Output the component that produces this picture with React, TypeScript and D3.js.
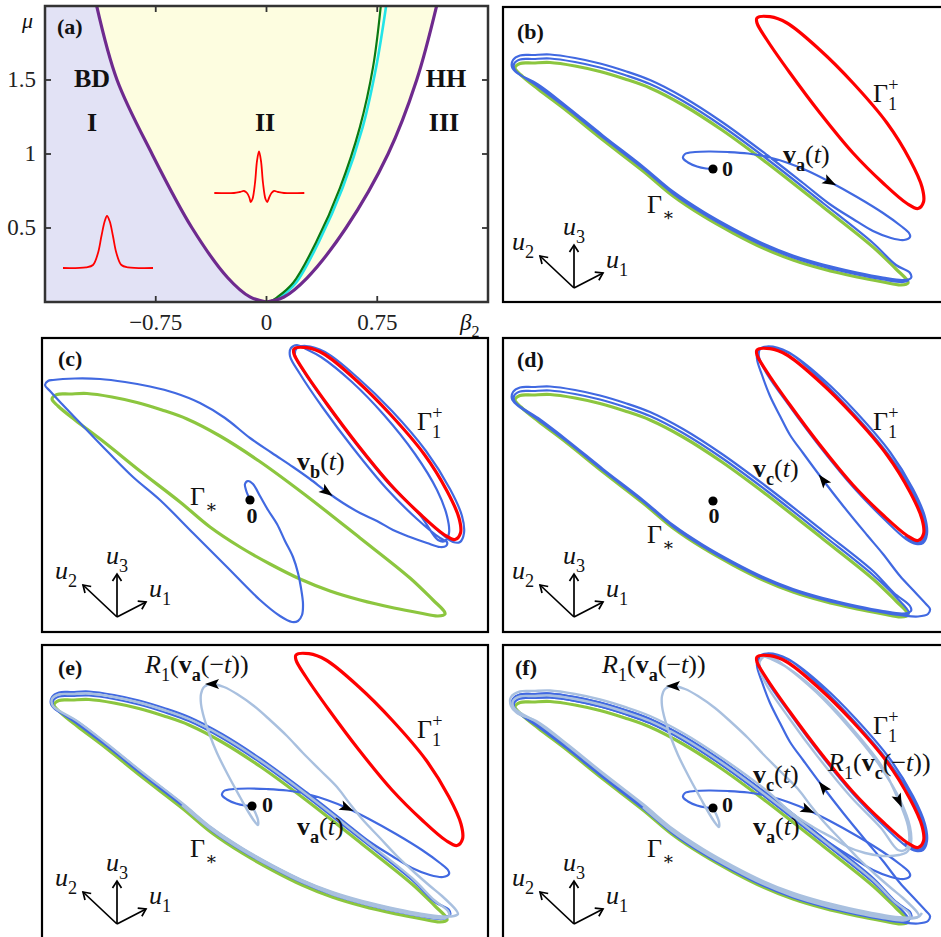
import React from 'react';
import * as d3 from 'd3';

type P = [number, number];

const SERIF = "'Liberation Serif', 'DejaVu Serif', serif";
const COL = {
  green: '#8cc63f',
  blue: '#4169e1',
  light: '#a9c0df',
  red: '#ff0000',
  purple: '#6e2a8e',
  branch: '#0b7a12',
  cyan: '#22e4e8',
  lav: '#e2e2f5',
  yel: '#fdfde0',
};

// ---------- (a) existence diagram in the (beta2, mu) plane ----------
const BETA_DOMAIN: P = [-1.5, 1.5];
const MU_DOMAIN: P = [0, 2];
const BETA_TICKS = [-0.75, 0, 0.75];
const BETA_TICK_LABELS = ['−0.75', '0', '0.75'];
const MU_TICKS = [0.5, 1, 1.5];
const MU_TICK_LABELS = ['0.5', '1', '1.5'];

// purple boundary, left and right branches sampled at the same mu levels
const MU_LEVELS = [0, 0.034, 0.162, 0.5, 1.0, 1.5, 2.0];
const BETA_LEFT = [0, -0.112, -0.261, -0.504, -0.775, -1.012, -1.15];
const BETA_RIGHT = [0, 0.118, 0.274, 0.538, 0.823, 1.017, 1.152];

// [beta2, mu]
const GREEN_BRANCH: P[] = [[0.02, 0], [0.07, 0.03], [0.181, 0.13], [0.339, 0.41], [0.497, 0.77], [0.632, 1.18], [0.722, 1.59], [0.774, 2.0]];
const CYAN_BRANCH: P[] = [[0.04, 0], [0.09, 0.03], [0.2, 0.13], [0.356, 0.41], [0.515, 0.77], [0.651, 1.18], [0.743, 1.59], [0.81, 2.0]];

// pulse insets: [offset, amplitude]
const PULSE_BD: P[] = [[-44, 0], [-21, 0.7], [-14, 3], [-9, 15], [-5.6, 31.7], [-2.3, 46.7], [0, 52], [2.7, 46.7], [6, 31.7], [9.4, 15], [14.4, 3], [21, 0.7], [46, 0]];
const PULSE_II: P[] = [[-44.7, 0], [-25, 0], [-19, 1], [-15, 2], [-12, 0], [-9.5, -5], [-8.3, -9], [-6.5, -6], [-4, 10], [-2, 32], [0, 41.7], [2, 32], [4, 10], [6.5, -6], [8.3, -9], [10, -5], [12.5, 0], [15, 2], [19, 1], [25, 0], [45.3, 0]];

// ---------- (b)-(f) projected phase portraits, shared projection ----------
const ORIGIN: P = [210, 162];

const GAMMA_STAR: P[] = [
  [12, 61], [17, 56.5], [30, 56], [47, 55.5], [72, 59], [97, 64.5], [122, 72], [147, 81], [180, 98], [219, 123],
  [264, 156], [320, 200], [370, 240], [393, 262], [404, 273], [405, 276], [398, 278], [380, 275], [354, 270],
  [320, 262], [290, 253], [260, 241], [230, 226], [200, 209], [170, 189], [140, 164], [100, 133], [64, 104], [35, 82], [18, 68],
];

const GAMMA_ONE: P[] = [
  [254, 11], [267, 9.7], [284, 16], [317, 43], [350, 76], [384, 116], [407, 153], [419, 180], [420.5, 195], [415, 201.5],
  [404, 196.5], [380, 176], [350, 146], [317, 106], [287, 66], [264, 33], [254, 16],
];

// v_a(t): from 0 out to Gamma_*
const VA_A: P[] = [
  [210, 162], [203, 161.5], [194, 159.5], [185, 155.5], [180, 151], [182, 147], [192, 145], [207, 144.5], [225, 145],
  [245, 146.5], [265, 150], [285, 156],
];
const VA_B: P[] = [
  [305, 164], [327, 175], [354, 190], [380, 206], [398, 219], [406, 226], [407, 230], [401, 233], [388, 231], [370, 224],
  [350, 212], [328, 198], [300, 176], [264, 148], [219, 115], [180, 90], [147, 73], [122, 64], [97, 56.5], [72, 51],
  [47, 47.5], [30, 48], [17, 48.5], [10, 53], [9, 60], [14, 66],
  [35, 77.5], [64, 99.5], [100, 128.5], [140, 159.5], [170, 184.5], [200, 204.5], [230, 221.5], [260, 236.5], [290, 248.5],
  [320, 257.5], [354, 265.5], [380, 270.5], [400, 273], [408, 271], [407, 266],
  [393, 258], [370, 236], [320, 196], [264, 152], [219, 119], [180, 94], [147, 77], [122, 68], [97, 60.5], [72, 55],
  [47, 51.5], [30, 52], [17, 52.5], [11, 57], [12, 63],
  [35, 79.5], [64, 101.5], [100, 130.5], [140, 161.5], [170, 186.5], [200, 206.5], [230, 223.5], [260, 238.5], [290, 250.5],
  [320, 259.5], [354, 267.5], [380, 272.5], [400, 275], [406, 273],
];
const VA = [...VA_A, ...VA_B];

// v_b(t): from 0 to Gamma_1^+
const VB_A: P[] = [
  [210, 162], [206, 152], [205, 146], [208, 143], [213, 146], [220, 158], [228, 172], [237, 186], [245, 203], [253, 219],
  [258, 235], [261, 250], [263, 266], [262, 277], [258, 283], [252, 284], [240, 278], [220, 262], [187, 229], [153, 195],
  [120, 162], [93, 139], [68, 114], [43, 88], [22, 66], [10, 53], [5, 47], [8, 43], [13, 42], [35, 40.5], [60, 41],
  [85, 44], [110, 48.5], [135, 55], [160, 65], [185, 80], [210, 100], [232, 115], [253, 129], [270, 141],
];
const VB_B: P[] = [
  [287, 154], [303, 165], [320, 175], [337, 183], [353, 192], [370, 199], [387, 205], [400, 209], [406, 208], [407, 204],
  [400, 200], [377, 181], [346, 150], [313, 110], [283, 70], [260, 36], [250, 18], [251, 10], [257, 7],
  [266, 11], [281, 19], [312, 44], [344, 77], [375, 116], [397, 152], [407, 178], [409, 195], [405, 203], [398, 202],
  [380, 177], [350, 147], [317, 107], [287, 67], [264, 34], [255, 17], [257, 10], [266, 8],
  [285, 14], [318, 40], [352, 73], [386, 113], [410, 151], [422, 178], [424, 195], [420, 204], [413, 204],
  [403, 197], [380, 176], [350, 146], [320, 110],
];
const VB = [...VB_A, ...VB_B];

// v_c(t): from Gamma_* to Gamma_1^+
const VC_A: P[] = [
  [200, 207.5], [230, 224.5], [260, 239.5], [290, 251.5], [320, 260.5], [354, 268.5], [380, 273.5], [400, 276], [406, 274],
  [393, 258], [370, 236], [320, 196], [264, 152], [219, 119], [180, 94], [147, 77], [122, 68], [97, 60.5], [72, 55],
  [47, 51.5], [30, 52], [17, 52.5], [11, 57], [12, 63],
  [35, 79], [64, 101], [100, 130], [140, 161], [170, 186], [200, 206], [230, 223], [260, 238], [290, 250], [320, 259],
  [354, 267], [380, 272], [400, 274.5], [408, 272], [407, 267],
  [391, 254], [370, 232], [320, 192], [264, 148], [219, 115], [180, 90], [147, 73], [122, 64], [97, 56.5], [72, 51],
  [47, 47.5], [30, 48], [17, 48.5], [10, 53], [9, 60], [14, 66],
  [35, 80.5], [64, 102.5], [100, 131.5], [140, 162.5], [170, 187.5], [200, 207.5], [230, 224.5], [260, 239.5], [290, 251.5],
  [320, 260.5], [354, 268.5], [380, 273.5], [400, 276.5], [415, 277.5], [425, 275], [427, 270], [423, 265],
  [410, 251], [397, 237], [380, 215], [364, 196], [341, 168],
];
const VC_B: P[] = [
  [320, 141], [300, 114], [287, 96], [277, 77], [267, 57], [259, 36], [254, 20], [255, 12], [261, 8], [271, 9],
  [288, 15], [320, 40], [353, 73], [387, 113], [410, 150], [422, 178], [424, 195], [420, 204], [413, 205],
  [403, 200], [381, 180], [351, 149], [318, 109], [288, 69], [264, 35], [256, 18], [257, 10], [264, 7.5],
  [285, 13], [318, 41], [351, 75], [385, 115], [409, 152], [420, 179], [422, 195], [418, 203], [410, 202], [402, 197],
];
const VC = [...VC_A, ...VC_B];

// R1(v_a(-t)): from Gamma_* back to 0
const R1VA_A: P[] = [
  [140, 161], [170, 186], [200, 206], [230, 223], [260, 238], [290, 250], [320, 259], [354, 267], [380, 272],
  [400, 274.5], [407, 272], [406, 267],
  [392, 256], [370, 234], [320, 194], [264, 150], [219, 117], [180, 92], [147, 75], [122, 66], [97, 58.5], [72, 53],
  [47, 49.5], [30, 50], [17, 50.5], [10, 55], [11, 62],
  [35, 77], [64, 99], [100, 128], [140, 159], [170, 184], [200, 204], [230, 221], [260, 236], [290, 248], [320, 257],
  [354, 265], [380, 270], [400, 272.5], [412, 272], [416, 270],
  [414, 266], [400, 252], [388, 242], [372, 228], [355, 212], [338, 194], [321, 176], [308, 160], [295, 143], [278, 126],
  [261, 109], [245, 92], [228, 76], [212, 62], [195, 50], [182, 43],
];
const R1VA_B: P[] = [
  [170, 40], [162, 43], [159, 50], [159, 60], [161, 70], [167, 89], [175, 109], [186, 131], [198, 153], [207, 169],
  [213, 178], [216, 181], [216, 176], [213, 168], [210, 162],
];
const R1VA = [...R1VA_A, ...R1VA_B];

// R1(v_c(-t)): from Gamma_1^+ back to Gamma_*
const R1VC_A: P[] = [
  [258, 9], [268, 13], [285, 22], [315, 46], [347, 80], [378, 119],
];
const R1VC_B: P[] = [
  [396, 155], [405, 180], [406, 196], [402, 204], [395, 204],
  [378, 182], [348, 151], [315, 111], [286, 72], [263, 38], [256, 20], [259, 12], [266, 10],
  [282, 20], [313, 46], [345, 80], [377, 120], [398, 156], [407, 181], [408, 197], [404, 206], [396, 209],
  [380, 210], [362, 207], [345, 201], [330, 192], [310, 181], [290, 168], [264, 145], [219, 112], [180, 87], [147, 70],
  [122, 61], [97, 53.5], [72, 48], [47, 44.5], [30, 45], [17, 45.5], [8, 51], [8, 60], [14, 67],
  [35, 76], [64, 98], [100, 127], [140, 158], [170, 183], [200, 203], [230, 220], [260, 235], [290, 247], [320, 256],
  [354, 264], [380, 269], [400, 271.5], [415, 271], [419, 267],
];
const R1VC = [...R1VC_A, ...R1VC_B];

// projection directions of the u1,u2,u3 axes
const AXIS_U1: P = [29, -15];
const AXIS_U2: P = [-34, -32];
const AXIS_U3: P = [0, -43];

// ---------- text helper ----------
interface Seg { t: string; s?: 'sub' | 'sup'; b?: boolean; i?: boolean; dx?: number }

function Mx({ x, y, segs, size = 26, anchor = 'start' }: { x: number; y: number; segs: Seg[]; size?: number; anchor?: string }) {
  let cur = 0;
  const kids = segs.map((g, k) => {
    const shift = g.s === 'sub' ? size * 0.3 : g.s === 'sup' ? -size * 0.42 : 0;
    const dy = shift - cur;
    cur = shift;
    return (
      <tspan key={k} dx={g.dx ?? 0} dy={dy} fontSize={g.s ? size * 0.7 : size}
        fontWeight={g.b ? 700 : 400} fontStyle={g.i ? 'italic' : 'normal'}>{g.t}</tspan>
    );
  });
  return <text x={x} y={y} fontFamily={SERIF} fontSize={size} textAnchor={anchor as any} fill="#111">{kids}</text>;
}

const G_STAR: Seg[] = [{ t: 'Γ' }, { t: '∗', s: 'sub' }];
const G_ONE: Seg[] = [{ t: 'Γ' }, { t: '1', s: 'sub' }, { t: '+', s: 'sup', dx: -9 }];
const ZERO: Seg[] = [{ t: '0', b: true }];
const vLab = (k: string): Seg[] => [{ t: 'v', b: true }, { t: k, s: 'sub', b: true }, { t: '(' }, { t: 't', i: true }, { t: ')' }];
const rLab = (k: string): Seg[] => [{ t: 'R', i: true }, { t: '1', s: 'sub' }, { t: '(' }, { t: 'v', b: true }, { t: k, s: 'sub', b: true }, { t: '(−' }, { t: 't', i: true }, { t: '))' }];

// ---------- panel (a) ----------
function PhaseDiagram() {
  const L = 45, R = 488, T = 6, B = 302;
  const x = d3.scaleLinear().domain(BETA_DOMAIN).range([L, R]);
  const y = d3.scaleLinear().domain(MU_DOMAIN).range([B, T]);
  const rows = MU_LEVELS.map((m, i) => ({ mu: m, l: BETA_LEFT[i], r: BETA_RIGHT[i] }));
  type Row = typeof rows[number];
  const cr = d3.curveCatmullRom.alpha(0.5);
  const lav = d3.area<Row>().y(d => y(d.mu)).x0(x(BETA_DOMAIN[0])).x1(d => x(d.l)).curve(cr)(rows) || '';
  const yel = d3.area<Row>().y(d => y(d.mu)).x0(d => x(d.l)).x1(d => x(d.r)).curve(cr)(rows) || '';
  const leftLine = d3.line<Row>().x(d => x(d.l)).y(d => y(d.mu)).curve(cr)(rows) || '';
  const rightLine = d3.line<Row>().x(d => x(d.r)).y(d => y(d.mu)).curve(cr)(rows) || '';
  const branch = d3.line<P>().x(d => x(d[0])).y(d => y(d[1])).curve(cr);

  const pulse = (data: P[], cx: number, base: number) => {
    const px = d3.scaleLinear().domain([0, 1]).range([cx, cx + 1]);
    const py = d3.scaleLinear().domain([0, 1]).range([base, base - 1]);
    return d3.line<P>().x(d => px(d[0])).y(d => py(d[1])).curve(cr)(data) || '';
  };

  return (
    <g>
      <defs>
        <clipPath id="clip-a"><rect x={L} y={T} width={R - L} height={B - T} /></clipPath>
      </defs>
      <g clipPath="url(#clip-a)">
        <path d={lav} fill={COL.lav} />
        <path d={yel} fill={COL.yel} />
        <path d={branch(CYAN_BRANCH) || ''} fill="none" stroke={COL.cyan} strokeWidth={2.6} />
        <path d={branch(GREEN_BRANCH) || ''} fill="none" stroke={COL.branch} strokeWidth={2.2} />
        <path d={leftLine} fill="none" stroke={COL.purple} strokeWidth={3.2} />
        <path d={rightLine} fill="none" stroke={COL.purple} strokeWidth={3.2} />
        <path d={pulse(PULSE_BD, 107, 268)} fill="none" stroke={COL.red} strokeWidth={1.8} />
        <path d={pulse(PULSE_II, 259, 193)} fill="none" stroke={COL.red} strokeWidth={1.8} />
      </g>
      <rect x={L} y={T} width={R - L} height={B - T} fill="none" stroke="#333" strokeWidth={2.5} />
      {BETA_TICKS.map((b, i) => (
        <g key={'bx' + i}>
          <line x1={x(b)} x2={x(b)} y1={B} y2={B - 6} stroke="#333" strokeWidth={1.8} />
          <line x1={x(b)} x2={x(b)} y1={T} y2={T + 6} stroke="#333" strokeWidth={1.8} />
          <text x={x(b)} y={330} textAnchor="middle" fontFamily={SERIF} fontSize={23} fill="#222">{BETA_TICK_LABELS[i]}</text>
        </g>
      ))}
      {MU_TICKS.map((m, i) => (
        <g key={'my' + i}>
          <line x1={L} x2={L + 6} y1={y(m)} y2={y(m)} stroke="#333" strokeWidth={1.8} />
          <line x1={R} x2={R - 6} y1={y(m)} y2={y(m)} stroke="#333" strokeWidth={1.8} />
          <text x={36} y={y(m) + 7} textAnchor="end" fontFamily={SERIF} fontSize={23} fill="#222">{MU_TICK_LABELS[i]}</text>
        </g>
      ))}
      <Mx x={22} y={28} segs={[{ t: 'μ', i: true }]} size={22} />
      <Mx x={460} y={330} segs={[{ t: 'β', i: true }, { t: '2', s: 'sub' }]} size={23} />
      <Mx x={57} y={34} segs={[{ t: '(a)', b: true }]} size={22} />
      <Mx x={92} y={87} segs={[{ t: 'BD', b: true }]} size={26} anchor="middle" />
      <Mx x={92} y={131} segs={[{ t: 'I', b: true }]} size={26} anchor="middle" />
      <Mx x={265} y={131} segs={[{ t: 'II', b: true }]} size={26} anchor="middle" />
      <Mx x={446} y={87} segs={[{ t: 'HH', b: true }]} size={26} anchor="middle" />
      <Mx x={444} y={131} segs={[{ t: 'III', b: true }]} size={26} anchor="middle" />
    </g>
  );
}

// ---------- panels (b)-(f) ----------
interface ArrowSpec { path: P[]; at: number }
interface LabelSpec { x: number; y: number; segs: Seg[]; anchor?: string; size?: number }
interface PortraitSpec {
  id: string;
  frame: [number, number, number, number];
  ox: number;
  oy: number;
  tag: P;
  dark: P[][];
  light: P[][];
  arrows: ArrowSpec[];
  labels: LabelSpec[];
  triad: P;
}

const PORTRAITS: PortraitSpec[] = [
  {
    id: 'b', frame: [503, 7, 445, 295], ox: 503, oy: 7, tag: [14, 32],
    dark: [VA], light: [], arrows: [{ path: VA, at: VA_A.length + 1 }], triad: [71, 281],
    labels: [
      { x: 370, y: 95, segs: G_ONE }, { x: 144, y: 206, segs: G_STAR },
      { x: 219, y: 169, segs: ZERO, size: 22 }, { x: 280, y: 156, segs: vLab('a') },
    ],
  },
  {
    id: 'c', frame: [42, 338, 446, 294], ox: 40, oy: 338, tag: [18, 28],
    dark: [VB], light: [], arrows: [{ path: VB, at: VB_A.length }], triad: [77, 279],
    labels: [
      { x: 377, y: 92, segs: G_ONE }, { x: 150, y: 167, segs: G_STAR },
      { x: 212, y: 185, segs: ZERO, size: 22, anchor: 'middle' }, { x: 257, y: 132, segs: vLab('b') },
    ],
  },
  {
    id: 'd', frame: [503, 338, 445, 294], ox: 503, oy: 339, tag: [14, 28],
    dark: [VC], light: [], arrows: [{ path: VC, at: VC_A.length }], triad: [71, 278],
    labels: [
      { x: 370, y: 91, segs: G_ONE }, { x: 144, y: 204, segs: G_STAR },
      { x: 211, y: 184, segs: ZERO, size: 22, anchor: 'middle' }, { x: 250, y: 138, segs: vLab('c') },
    ],
  },
  {
    id: 'e', frame: [42, 645, 446, 310], ox: 42, oy: 644, tag: [16, 31],
    dark: [VA], light: [R1VA],
    arrows: [{ path: VA, at: VA_A.length }, { path: R1VA, at: R1VA_A.length }], triad: [75, 280],
    labels: [
      { x: 375, y: 94, segs: G_ONE }, { x: 148, y: 213, segs: G_STAR },
      { x: 220, y: 168, segs: ZERO, size: 22 }, { x: 103, y: 29, segs: rLab('a') },
      { x: 255, y: 191, segs: vLab('a') },
    ],
  },
  {
    id: 'f', frame: [503, 645, 445, 310], ox: 503, oy: 646, tag: [12, 29],
    dark: [VA, VC], light: [R1VA, R1VC],
    arrows: [
      { path: VA, at: VA_A.length }, { path: VC, at: VC_A.length },
      { path: R1VA, at: R1VA_A.length }, { path: R1VC, at: R1VC_A.length },
    ],
    triad: [71, 278],
    labels: [
      { x: 370, y: 88, segs: G_ONE }, { x: 144, y: 211, segs: G_STAR },
      { x: 219, y: 166, segs: ZERO, size: 22 }, { x: 99, y: 27, segs: rLab('a') },
      { x: 250, y: 137, segs: vLab('c') }, { x: 250, y: 189, segs: vLab('a') },
      { x: 325, y: 125, segs: rLab('c') },
    ],
  },
];

function Portrait({ spec }: { spec: PortraitSpec }) {
  const [fx, fy, fw, fh] = spec.frame;
  const x = d3.scaleLinear().domain([0, 440]).range([spec.ox, spec.ox + 440]);
  const y = d3.scaleLinear().domain([0, 300]).range([spec.oy, spec.oy + 300]);
  const open = d3.line<P>().x(d => x(d[0])).y(d => y(d[1])).curve(d3.curveCatmullRom.alpha(0.5));
  const closed = d3.line<P>().x(d => x(d[0])).y(d => y(d[1])).curve(d3.curveCatmullRomClosed.alpha(0.5));
  const clipId = 'clip-' + spec.id;

  const arrowHead = (a: ArrowSpec, k: number) => {
    const p = a.path[a.at], prev = a.path[a.at - 1], next = a.path[a.at + 1];
    const ang = (Math.atan2(y(next[1]) - y(prev[1]), x(next[0]) - x(prev[0])) * 180) / Math.PI;
    return (
      <path key={'ar' + k} d="M7,0 L-7,-5 L-4,0 L-7,5 Z" fill="#000"
        transform={`translate(${x(p[0])},${y(p[1])}) rotate(${ang})`} />
    );
  };

  const tx = x(spec.triad[0]), ty = y(spec.triad[1]);
  const axis = (v: P, k: number) => {
    const ex = tx + v[0], ey = ty + v[1];
    const len = Math.hypot(v[0], v[1]);
    const ux = v[0] / len, uy = v[1] / len;
    const bx = ex - ux * 7, by = ey - uy * 7;
    const nx = -uy * 4.5, ny = ux * 4.5;
    return (
      <g key={'ax' + k}>
        <line x1={tx} y1={ty} x2={ex} y2={ey} stroke="#000" strokeWidth={1.7} />
        <polyline points={`${bx + nx},${by + ny} ${ex},${ey} ${bx - nx},${by - ny}`} fill="none" stroke="#000" strokeWidth={1.7} />
      </g>
    );
  };

  return (
    <g>
      <defs>
        <clipPath id={clipId}><rect x={fx} y={fy} width={fw} height={fh} /></clipPath>
      </defs>
      <g clipPath={`url(#${clipId})`}>
        <path d={closed(GAMMA_STAR) || ''} fill="none" stroke={COL.green} strokeWidth={3.2} />
        {spec.dark.map((p, k) => (
          <path key={'d' + k} d={open(p) || ''} fill="none" stroke={COL.blue} strokeWidth={2.2} />
        ))}
        {spec.light.map((p, k) => (
          <path key={'l' + k} d={open(p) || ''} fill="none" stroke={COL.light} strokeWidth={2.4} />
        ))}
        <path d={closed(GAMMA_ONE) || ''} fill="none" stroke={COL.red} strokeWidth={3.2} />
        <circle cx={x(ORIGIN[0])} cy={y(ORIGIN[1])} r={4.6} fill="#000" />
        {spec.arrows.map(arrowHead)}
      </g>
      {[AXIS_U1, AXIS_U2, AXIS_U3].map(axis)}
      <Mx x={tx} y={ty - 53} segs={[{ t: 'u', i: true }, { t: '3', s: 'sub' }]} anchor="middle" />
      <Mx x={tx + 32} y={ty - 20} segs={[{ t: 'u', i: true }, { t: '1', s: 'sub' }]} />
      <Mx x={tx - 62} y={ty - 38} segs={[{ t: 'u', i: true }, { t: '2', s: 'sub' }]} />
      {spec.labels.map((l, k) => (
        <Mx key={'t' + k} x={x(l.x)} y={y(l.y)} segs={l.segs} anchor={l.anchor} size={l.size ?? 26} />
      ))}
      <Mx x={x(spec.tag[0])} y={y(spec.tag[1])} segs={[{ t: `(${spec.id})`, b: true }]} size={22} />
      <rect x={fx} y={fy} width={fw} height={fh} fill="none" stroke="#000" strokeWidth={2.2} />
    </g>
  );
}

export default function App() {
  return (
    <svg width={941} height={937} viewBox="0 0 941 937"
      style={{ position: 'absolute', left: 0, top: 0, background: '#fff' }}>
      <rect x={0} y={0} width={941} height={937} fill="#fff" />
      <PhaseDiagram />
      {PORTRAITS.map(s => <Portrait key={s.id} spec={s} />)}
    </svg>
  );
}
